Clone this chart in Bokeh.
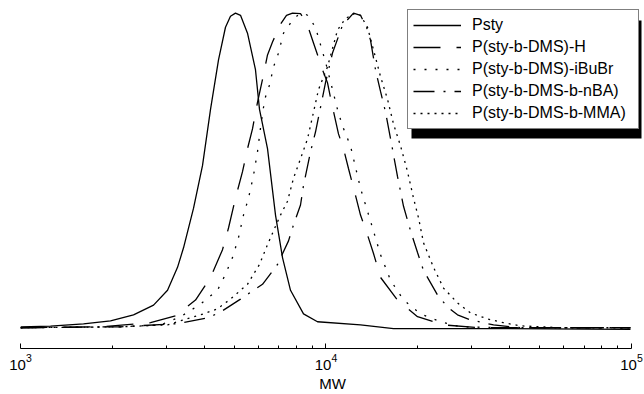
from bokeh.plotting import figure
from bokeh.models import Legend, LegendItem, FixedTicker, BoxAnnotation, Range1d
from bokeh.embed import file_html
from bokeh.resources import INLINE

# ---- data (MW, normalised detector response) ----
psty_mw = [1000, 1254, 1608, 1971, 2344, 2726, 3029, 3266, 3417, 3685, 3942, 4188, 4448,
           4688, 4868, 5055, 5250, 5534, 5877, 6058, 6435, 6835, 7205, 7653, 8441, 9380,
           12970, 16636, 37270, 99240]
psty_y = [0.003, 0.005, 0.012, 0.022, 0.041, 0.072, 0.119, 0.192, 0.254, 0.380, 0.515, 0.694,
          0.851, 0.955, 0.990, 1.000, 0.993, 0.936, 0.820, 0.694, 0.569, 0.358, 0.223, 0.119,
          0.044, 0.019, 0.009, -0.003, -0.003, -0.005]

h_mw = [1000, 1827, 2665, 3217, 3740, 4188, 4584, 4796, 5055, 5330, 5534, 5746, 5967, 6197,
        6435, 6682, 7097, 7425, 7769, 8252, 8634, 9101, 9452, 9739, 10113, 10423, 10987,
        11410, 11847, 12490, 12970, 13672, 14306, 15083, 17140, 19933, 24245, 32050, 99240]
h_y = [0.000, 0.003, 0.016, 0.038, 0.088, 0.160, 0.248, 0.317, 0.412, 0.496, 0.569, 0.632,
       0.716, 0.789, 0.867, 0.908, 0.965, 0.993, 1.000, 0.998, 0.971, 0.905, 0.858, 0.820,
       0.779, 0.716, 0.616, 0.569, 0.506, 0.421, 0.358, 0.295, 0.236, 0.160, 0.088, 0.035,
       0.009, 0.000, 0.000]

ibubr_mw = [1000, 2125, 2872, 3340, 3884, 4414, 4688, 4942, 5171, 5370, 5576, 5790, 5967,
            6104, 6300, 6540, 6733, 6991, 7259, 7653, 8128, 8441, 8699, 9239, 9452, 9963,
            10502, 10905, 11324, 12028, 12970, 13985, 15083, 16265, 17937, 20389, 23704,
            27557, 37270, 99240]
ibubr_y = [0.000, 0.003, 0.009, 0.035, 0.075, 0.119, 0.170, 0.223, 0.286, 0.358, 0.412, 0.484,
           0.559, 0.635, 0.726, 0.773, 0.829, 0.873, 0.936, 0.968, 0.996, 1.000, 0.993, 0.955,
           0.921, 0.845, 0.757, 0.694, 0.641, 0.578, 0.443, 0.339, 0.232, 0.151, 0.088, 0.044,
           0.019, 0.003, 0.000, 0.000]

nba_mw = [1000, 2125, 3266, 4094, 4516, 5250, 5790, 6197, 6938, 7539, 7828, 8252, 8441, 8898,
          9239, 9963, 10502, 11324, 12303, 12970, 13571, 13985, 14522, 15083, 15664, 16388,
          17140, 17937, 18910, 19933, 20855, 23174, 24988, 26941, 29717, 35350, 43330, 99240]
nba_y = [0.000, 0.003, 0.013, 0.031, 0.050, 0.091, 0.119, 0.138, 0.201, 0.276, 0.327, 0.390,
         0.452, 0.559, 0.622, 0.779, 0.873, 0.961, 1.000, 0.993, 0.955, 0.914, 0.820, 0.751,
         0.685, 0.584, 0.481, 0.386, 0.308, 0.239, 0.182, 0.104, 0.066, 0.041, 0.025, 0.009,
         0.000, 0.000]

mma_mw = [1000, 2125, 3029, 3417, 3884, 4414, 4868, 5250, 5534, 5790, 6058, 6435, 6733, 7097,
          7482, 7828, 8252, 8699, 9101, 9452, 10113, 10905, 11583, 12490, 12970, 13672, 14306,
          15083, 15902, 16636, 17536, 18487, 19341, 20085, 20855, 22484, 24245, 26941, 29717,
          33790, 38110, 43330, 58560, 99240]
mma_y = [0.000, 0.003, 0.009, 0.025, 0.041, 0.060, 0.091, 0.119, 0.138, 0.170, 0.201, 0.264,
         0.308, 0.358, 0.402, 0.475, 0.537, 0.600, 0.685, 0.757, 0.829, 0.946, 0.983, 1.000,
         0.993, 0.955, 0.883, 0.798, 0.726, 0.647, 0.578, 0.496, 0.412, 0.349, 0.270, 0.192,
         0.126, 0.079, 0.047, 0.028, 0.016, 0.006, 0.000, 0.000]

series_names = ["Psty", "P(sty-b-DMS)-H", "P(sty-b-DMS)-iBuBr", "P(sty-b-DMS-b-nBA)",
                "P(sty-b-DMS-b-MMA)"]
major_ticks = [1e3, 1e4, 1e5]
minor_ticks = [2e3, 3e3, 4e3, 5e3, 6e3, 7e3, 8e3, 9e3, 2e4, 3e4, 4e4, 5e4, 6e4, 7e4, 8e4, 9e4]

FONT = "Liberation Sans"

p = figure(width=644, height=394, x_axis_type="log",
           x_range=Range1d(1000, 110300), y_range=Range1d(-0.066, 1.040),
           y_axis_location=None, output_backend="svg", toolbar_location=None,
           min_border_left=20, min_border_right=0, min_border_top=0, min_border_bottom=42)
p.grid.visible = False
p.outline_line_color = None
p.background_fill_color = "white"
p.border_fill_color = "white"

ax = p.xaxis[0]
ax.ticker = FixedTicker(ticks=major_ticks, minor_ticks=minor_ticks)
ax.bounds = (1000, 100000)
ax.axis_line_color = "black"
ax.axis_line_width = 1
ax.major_tick_in = 5
ax.major_tick_out = 0
ax.minor_tick_in = 3
ax.minor_tick_out = 0
ax.major_tick_line_color = "black"
ax.minor_tick_line_color = "black"
ax.major_label_text_font = FONT
ax.major_label_text_font_size = "15px"
ax.major_label_text_color = "black"
ax.major_label_standoff = 5
ax.axis_label = "MW"
ax.axis_label_text_font = FONT
ax.axis_label_text_font_size = "15px"
ax.axis_label_text_font_style = "normal"
ax.axis_label_text_color = "black"
ax.axis_label_standoff = 2

lw = 1.3
r1 = p.line(psty_mw, psty_y, line_color="black", line_width=lw)
r2 = p.line(h_mw, h_y, line_color="black", line_width=lw, line_dash="27 16")
r3 = p.line(ibubr_mw, ibubr_y, line_color="black", line_width=lw, line_dash="2 9")
r4 = p.line(nba_mw, nba_y, line_color="black", line_width=lw, line_dash="21 9 2 9")
r5 = p.line(mma_mw, mma_y, line_color="black", line_width=lw, line_dash="2 5")

# legend drop shadow
shadow = BoxAnnotation(left=411, right=641, top=20, bottom=138,
                       left_units="canvas", right_units="canvas",
                       top_units="canvas", bottom_units="canvas",
                       fill_color="black", fill_alpha=1.0, line_color=None)
p.add_layout(shadow)

legend = Legend(items=[LegendItem(label=n, renderers=[r]) for n, r in
                       zip(series_names, [r1, r2, r3, r4, r5])],
                location=(387, 219), margin=0, padding=5, spacing=2,
                glyph_width=48, glyph_height=20, label_height=20, label_width=161,
                label_standoff=11, label_text_font=FONT, label_text_font_size="16px",
                label_text_color="black", border_line_color="black", border_line_width=1,
                background_fill_color="white", background_fill_alpha=1.0)
p.add_layout(legend)

open("out.html", "w").write(file_html(p, INLINE))
